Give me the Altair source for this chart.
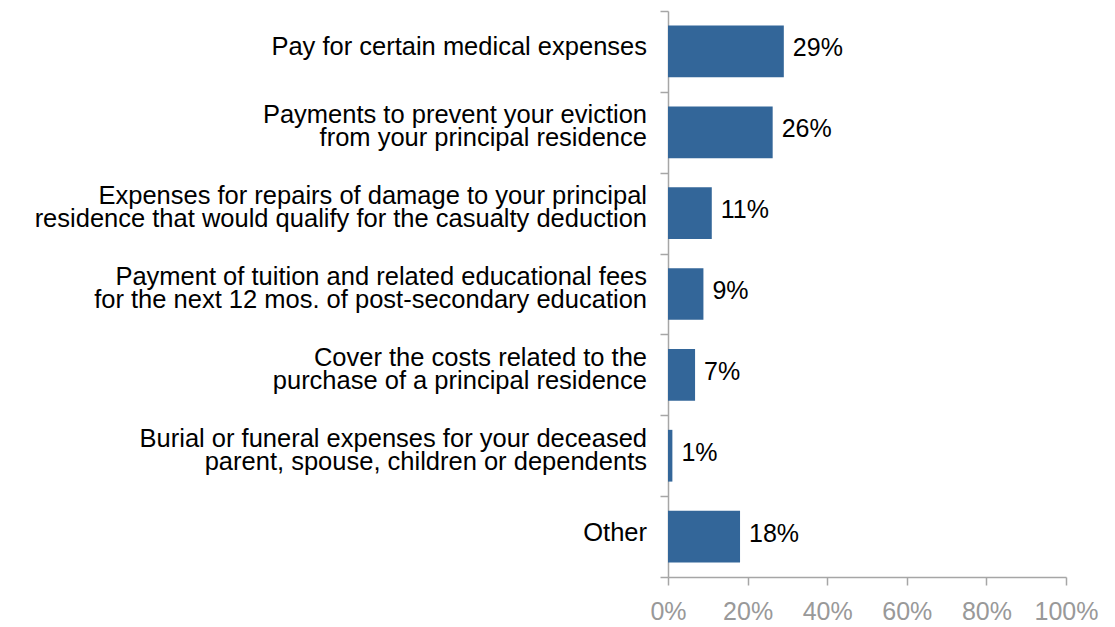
import altair as alt
import pandas as pd

categories = [
    "Pay for certain medical expenses",
    "Payments to prevent your eviction|from your principal residence",
    "Expenses for repairs of damage to your principal|residence that would qualify for the casualty deduction",
    "Payment of tuition and related educational fees|for the next 12 mos. of post-secondary education",
    "Cover the costs related to the|purchase of a principal residence",
    "Burial or funeral expenses for your deceased|parent, spouse, children or dependents",
    "Other",
]
values = [29.1, 26.3, 11.0, 8.9, 6.8, 1.1, 18.1]
value_labels = ["29%", "26%", "11%", "9%", "7%", "1%", "18%"]
x_ticks = [0, 20, 40, 60, 80, 100]

df = pd.DataFrame({"cat": categories, "val": values, "lbl": value_labels})

FONT = "Liberation Sans"
FS = 25
CAT_FS = 25.5
GRAY = "#a6a6a6"

y_enc = alt.Y(
    "cat:N",
    sort=None,
    scale=alt.Scale(paddingInner=0, paddingOuter=0),
    axis=alt.Axis(
        title=None,
        labels=False,
        tickBand="extent",
        tickSize=8,
        tickColor=GRAY,
        domainColor=GRAY,
        tickWidth=1.5,
        domainWidth=1.5,
        grid=False,
    ),
)
x_enc = alt.X(
    "val:Q",
    scale=alt.Scale(domain=[0, 100], nice=False),
    axis=alt.Axis(
        title=None,
        values=x_ticks,
        labelExpr="datum.value + '%'",
        labelFontSize=FS,
        labelColor="#999999",
        labelFont=FONT,
        labelPadding=14,
        labelFlush=False,
        labelOverlap=False,
        tickSize=8,
        tickColor=GRAY,
        domainColor=GRAY,
        tickWidth=1.5,
        domainWidth=1.5,
        grid=False,
    ),
)

base = alt.Chart(df)

bars = base.mark_bar(
    color="#336699", height=alt.RelativeBandSize(0.64)
).encode(x=x_enc, y=y_enc)

text = base.mark_text(
    align="left", baseline="middle", dx=9, dy=-3, fontSize=FS, font=FONT, color="black"
).encode(x="val:Q", y=alt.Y("cat:N", sort=None), text="lbl:N")

cat_single = base.transform_filter("indexof(datum.cat, '|') < 0").mark_text(
    align="right", baseline="middle", dy=-4, fontSize=CAT_FS, font=FONT,
    color="black", lineBreak="|", lineHeight=23,
).encode(x=alt.value(-21), y=alt.Y("cat:N", sort=None), text="cat:N")

cat_multi = base.transform_filter("indexof(datum.cat, '|') >= 0").mark_text(
    align="right", baseline="middle", dy=-17, fontSize=CAT_FS, font=FONT,
    color="black", lineBreak="|", lineHeight=23,
).encode(x=alt.value(-21), y=alt.Y("cat:N", sort=None), text="cat:N")

chart = (
    alt.layer(bars, text, cat_single, cat_multi)
    .properties(
        width=398,
        height=566,
        autosize=alt.AutoSizeParams(type="none"),
        padding={"left": 660, "top": 3, "right": 40, "bottom": 50},
    )
    .configure_view(stroke=None)
)

chart.save("out.html", embed_options={"renderer": "svg", "actions": False})
